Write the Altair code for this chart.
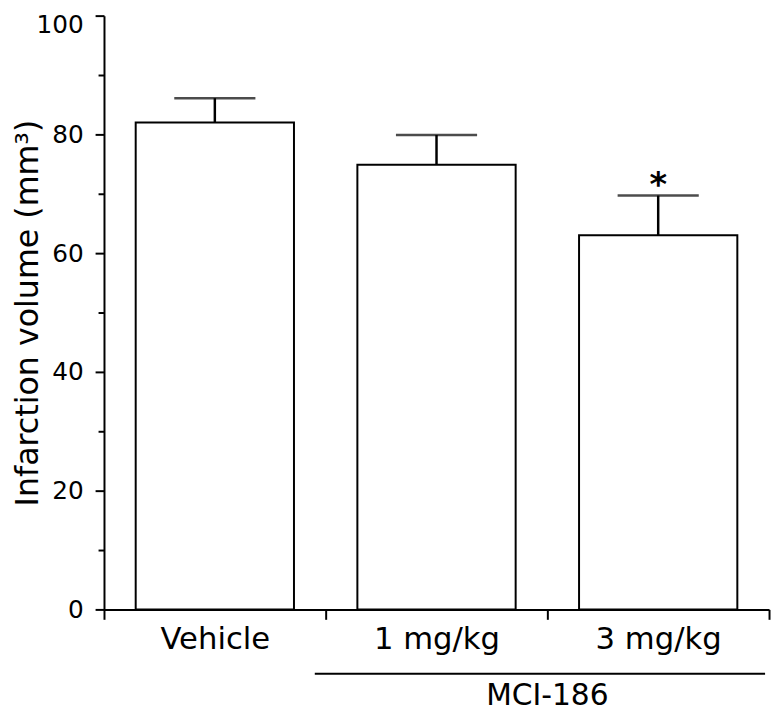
import altair as alt
import pandas as pd

groups = ["Vehicle", "1 mg/kg", "3 mg/kg"]
means = [82.0, 74.9, 63.0]
sems = [4.1, 5.0, 6.7]
sig = ["", "", "*"]

major_ticks = [0, 20, 40, 60, 80, 100]
minor_ticks = [10, 30, 50, 70, 90]
top_tick = [100]

bracket_start = ["1 mg/kg"]
bracket_end = ["3 mg/kg"]
bracket_label = ["MCI-186"]

FONT = "DejaVu Sans"

df = pd.DataFrame({"group": groups, "mean": means, "sem": sems, "sig": sig})
df["upper"] = df["mean"] + df["sem"]

br = pd.DataFrame({"start": bracket_start, "end": bracket_end, "label": bracket_label})

yscale = alt.Scale(domain=[0, 100], nice=False)
xscale = alt.Scale(domain=groups, paddingInner=0, paddingOuter=0)

x_main = alt.X(
    "group:N", scale=xscale,
    axis=alt.Axis(
        title=None, labelAngle=0, labelFontSize=31, labelFont=FONT,
        labelColor="black", tickBand="extent", tickSize=10, tickWidth=2,
        tickColor="black", domainColor="black", domainWidth=2,
        labelPadding=5, grid=False,
    ),
)

bars = alt.Chart(df).mark_bar(
    width=alt.RelativeBandSize(0.714), fill="white", stroke="black", strokeWidth=2
).encode(
    x=x_main,
    y=alt.Y(
        "mean:Q", scale=yscale,
        axis=alt.Axis(
            values=major_ticks, title="Infarction volume (mm³)",
            labelExpr="datum.value == 100 ? '' : datum.label",
            titleFontSize=32, titleFont=FONT, titleFontWeight="normal",
            titleColor="black", titleX=-67, titleBaseline="alphabetic",
            labelFontSize=25, labelFont=FONT, labelColor="black",
            labelPadding=12, tickSize=9, tickWidth=2, tickColor="black",
            domainColor="black", domainWidth=2, grid=False,
        ),
    ),
)

errs = alt.Chart(df).mark_rule(strokeWidth=2.5, color="black").encode(
    x=alt.X("group:N", scale=xscale),
    y=alt.Y(
        "mean:Q",
        axis=alt.Axis(
            values=minor_ticks, labels=False, domain=False, title=None,
            orient="left", tickSize=6, tickWidth=2, tickColor="black", grid=False,
        ),
    ),
    y2="upper:Q",
)

caps = alt.Chart(df).mark_tick(size=82, thickness=2.5, color="black").encode(
    x=alt.X("group:N", scale=xscale),
    y=alt.Y(
        "upper:Q",
        axis=alt.Axis(
            values=top_tick, ticks=False, domain=False, title=None,
            orient="left", labelFontSize=25, labelFont=FONT, labelColor="black",
            labelPadding=21, labelOffset=9, grid=False,
        ),
    ),
)

stars = alt.Chart(df).mark_text(
    fontSize=34, font=FONT, fontWeight="bold", baseline="alphabetic", color="black"
).encode(
    x=alt.X("group:N", scale=xscale),
    y=alt.Y("upper:Q", axis=None),
    text="sig:N",
)

bracket = alt.Chart(br).mark_rule(
    strokeWidth=2, color="black", xOffset=-11, x2Offset=-4
).encode(
    x=alt.X("start:N", scale=xscale, bandPosition=0),
    x2=alt.X2("end:N", bandPosition=1),
    y=alt.value(665),
)

bracket_text = alt.Chart(br).mark_text(
    fontSize=30, font=FONT, color="black", baseline="middle"
).encode(
    x=alt.X("end:N", scale=xscale, bandPosition=0),
    y=alt.value(688),
    text="label:N",
)

chart = alt.layer(bars, errs, caps, stars, bracket, bracket_text).resolve_axis(
    y="independent"
).properties(
    width=672, height=600,
    autosize=alt.AutoSizeParams(type="none"),
    padding={"left": 97, "top": 4, "right": 3, "bottom": 105},
    background="white",
).configure_view(stroke=None)

chart.save("out.html", embed_options={"renderer": "svg", "actions": False})
